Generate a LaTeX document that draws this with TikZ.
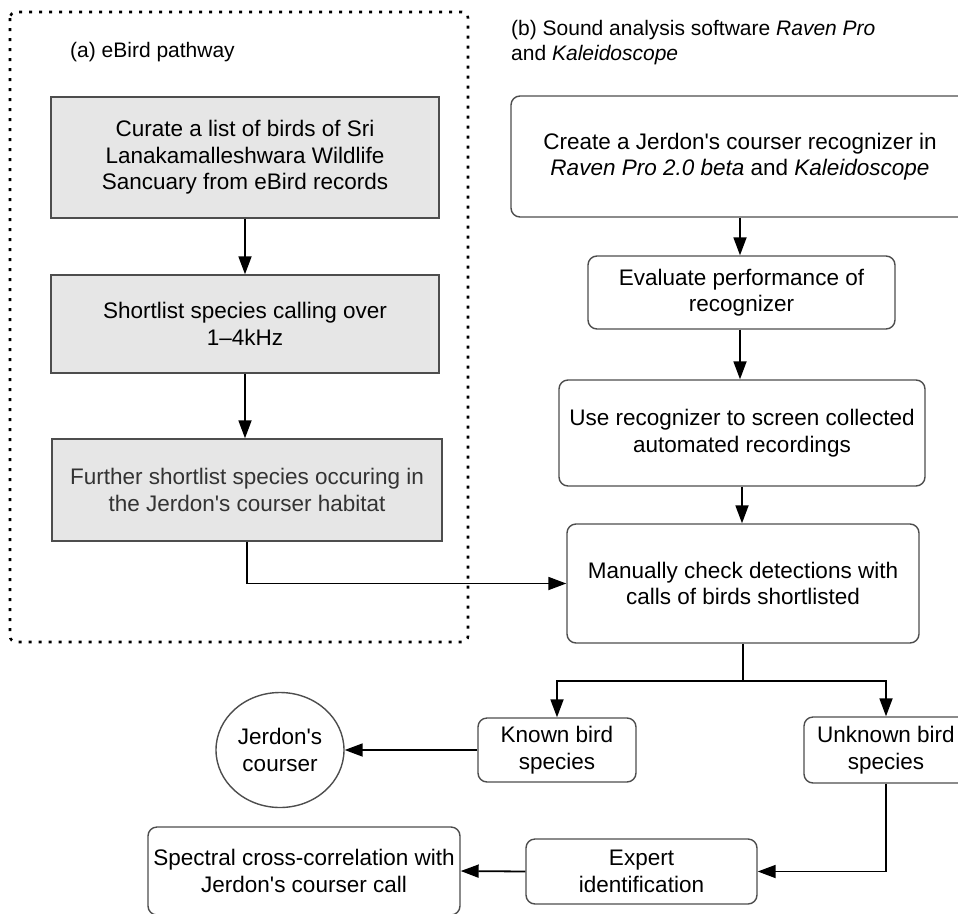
\documentclass[tikz,border=0pt]{standalone}
\usepackage{fontspec}
\setmainfont{Liberation Sans}[Ligatures=TeXOff]
\usetikzlibrary{arrows.meta,shapes.geometric,calc}
\definecolor{boxgray}{HTML}{E6E6E6}
\definecolor{edgegray}{HTML}{4D4D4D}
\begin{document}
\begin{tikzpicture}[x=1pt,y=-1pt,
  boxtext/.style={font=\fontsize{22.5}{26.5}\selectfont, align=center, inner sep=0pt},
  graybox/.style={boxtext, draw=edgegray, line width=1.4pt, fill=boxgray},
  roundbox/.style={boxtext, draw=edgegray, line width=1.4pt, fill=white, rounded corners=9pt},
  arr/.style={draw=black, line width=1.8pt, -{Triangle[length=18pt,width=13pt]}},
  plainline/.style={draw=black, line width=1.8pt},
  titletext/.style={font=\fontsize{21}{25}\selectfont, align=left, inner sep=0pt}
]
\useasboundingbox (0,0) rectangle (958,913);
\clip (0,0) rectangle (958,913);

% dotted frame of pathway (a)
\draw[line width=2.6pt, dash pattern=on 3pt off 7pt, rounded corners=6pt]
  (10,12) rectangle (468,642);
\node[titletext, anchor=base west] (ta) at (70,57) {(a) eBird pathway};
\node[titletext, anchor=north west] (tb) at (511,20)
  {(b) Sound analysis software \textit{Raven Pro}\\and \textit{Kaleidoscope}};

% pathway (a)
\node[graybox, minimum width=388pt, minimum height=121pt] (a1) at (245,157.5)
  {Curate a list of birds of Sri\\Lanakamalleshwara Wildlife\\Sancuary from eBird records};
\node[graybox, minimum width=388pt, minimum height=98pt] (a2) at (245,324)
  {Shortlist species calling over\\1–4kHz};
\node[graybox, minimum width=390pt, minimum height=102pt, text=black!80] (a3) at (247,490)
  {Further shortlist species occuring in\\the Jerdon's courser habitat};

% pathway (b)
\node[roundbox, minimum width=458pt, minimum height=121pt] (b1) at (740,156.5)
  {Create a Jerdon's courser recognizer in\\\textit{Raven Pro 2.0 beta} and \textit{Kaleidoscope}};
\node[roundbox, minimum width=307pt, minimum height=73pt] (b2) at (741.5,292.5)
  {Evaluate performance of\\recognizer};
\node[roundbox, minimum width=366pt, minimum height=106pt] (b3) at (742,433)
  {Use recognizer to screen collected\\automated recordings};
\node[roundbox, minimum width=352pt, minimum height=119pt] (b4) at (743,583.5)
  {Manually check detections with\\calls of birds shortlisted};

\node[roundbox, minimum width=158pt, minimum height=64pt] (known) at (557,750)
  {Known bird\\species};
\node[roundbox, minimum width=164pt, minimum height=66pt] (unknown) at (886,750)
  {Unknown bird\\species};
\node[boxtext, draw=edgegray, line width=1.4pt, ellipse, minimum width=128pt, minimum height=115pt] (jc) at (280,750)
  {Jerdon's\\courser};
\node[roundbox, minimum width=231pt, minimum height=65pt] (expert) at (641.5,871.5)
  {Expert\\identification};
\node[roundbox, minimum width=312pt, minimum height=88pt] (spec) at (304,871)
  {Spectral cross-correlation with\\Jerdon's courser call};

% connectors
\draw[arr] (a1.south) -- (a2.north);
\draw[arr] (a2.south) -- (a2.south |- a3.north);
\draw[arr] (a3.south) |- (b4.west);
\draw[arr] (b1.south) -- (b1.south |- b2.north);
\draw[arr] (b2.south -| b1.south) -- (b1.south |- b3.north);
\draw[arr] (b3.south) -- (b3.south |- b4.north);
\coordinate (split) at ($(b4.south)+(0,37)$);
\draw[plainline] (b4.south) -- (split);
\draw[arr] (split) -| (known.north);
\draw[arr] (split) -| (unknown.north);
\draw[arr] (known.west) -- (jc.east);
\draw[arr] (unknown.south) |- (expert.east);
\draw[arr] (expert.west) -- (spec.east);
\end{tikzpicture}
\end{document}
